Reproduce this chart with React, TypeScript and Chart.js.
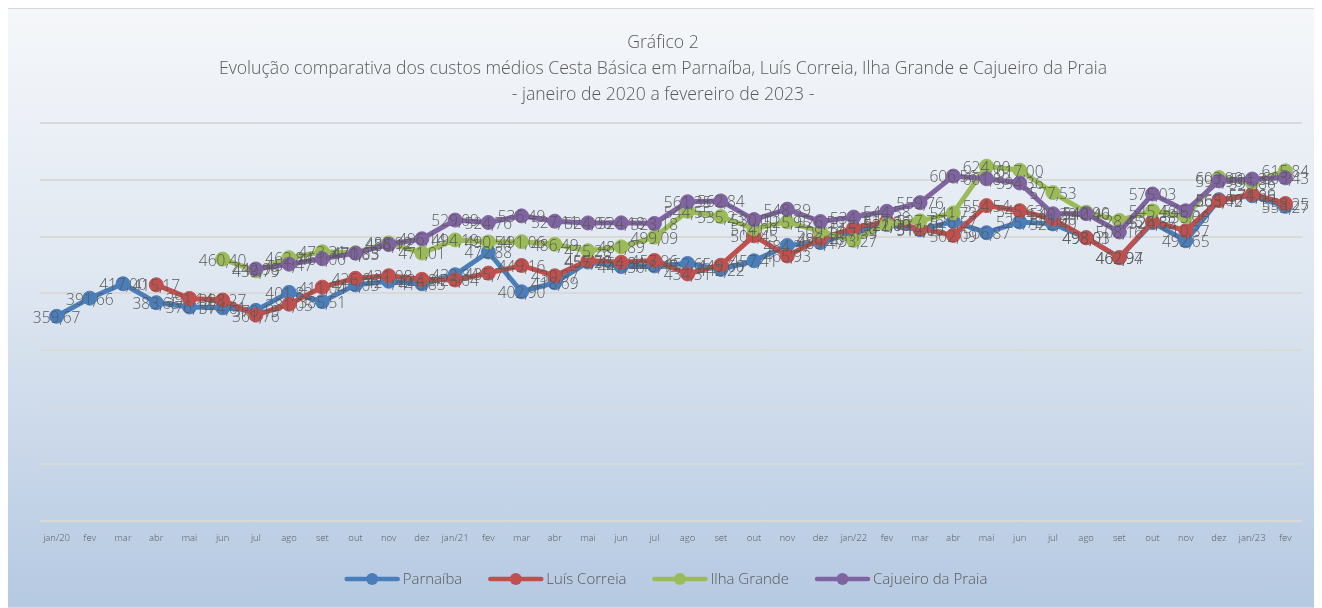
import React, { useEffect, useRef } from "react";
import { Chart, registerables } from "chart.js";

Chart.register(...registerables);

const months: string[] = [
  "jan/20", "fev", "mar", "abr", "mai", "jun", "jul", "ago", "set", "out", "nov", "dez",
  "jan/21", "fev", "mar", "abr", "mai", "jun", "jul", "ago", "set", "out", "nov", "dez",
  "jan/22", "fev", "mar", "abr", "mai", "jun", "jul", "ago", "set", "out", "nov", "dez",
  "jan/23", "fev",
];

const parnaiba: (number | null)[] = [
  359.67, 391.66, 417.0, 383.65, 376.14, 374.61, 370.19, 401.82, 385.51, 415.05, 421.42, 416.85,
  432.84, 472.88, 402.9, 418.69, 455.26, 447.3, 448.45, 452.65, 442.22, 457.41, 484.37, 489.47,
  507.59, 521.0, 512.05, 526.57, 506.87, 525.73, 522.4, 498.01, 462.97, 524.55, 492.65, 565.0,
  571.86, 553.27,
];

const luisCorreia: (number | null)[] = [
  null, null, null, 415.17, 391.14, 388.27, 361.76, 381.05, 411.04, 426.64, 431.08, 424.81,
  423.64, 435.71, 449.16, 430.97, 457.7, 454.84, 457.96, 434.31, 449.6, 501.45, 465.93, 496.16,
  515.0, 527.0, 514.0, 502.09, 554.54, 545.63, 531.0, 498.03, 462.94, 526.82, 510.37, 563.42,
  574.69, 558.25,
];

const ilhaGrande: (number | null)[] = [
  null, null, null, null, null, 460.4, 439.79, 462.84, 473.31, 471.65, 488.92, 471.01,
  494.19, 490.54, 491.06, 486.49, 475.28, 481.89, 499.09, 544.55, 535.23, 514.0, 525.95, 509.16,
  493.27, 522.0, 527.76, 541.73, 624.0, 617.0, 577.53, 542.9, 528.45, 545.46, 535.0, 603.9,
  595.86, 615.84,
];

const cajueiro: (number | null)[] = [
  null, null, null, null, null, null, 442.98, 451.47, 461.0, 470.83, 486.12, 496.14,
  529.09, 524.76, 536.49, 527.11, 524.06, 524.18, 523.18, 561.35, 562.84, 530.0, 548.39, 526.5,
  534.3, 544.58, 559.76, 606.56, 601.8, 594.36, 540.2, 540.46, 508.16, 575.03, 545.52, 597.96,
  601.32, 603.43,
];

const seriesNames = ["Parnaíba", "Luís Correia", "Ilha Grande", "Cajueiro da Praia"];
const seriesColors = ["#4a7ebb", "#c0504d", "#9bbb59", "#8064a2"];
const titleLines = [
  "Gráfico 2",
  "Evolução comparativa dos custos médios Cesta Básica em Parnaíba, Luís Correia, Ilha Grande e Cajueiro da Praia",
  "- janeiro de 2020 a fevereiro de 2023 -",
];

const FONT = "'Open Sans', 'Noto Sans', sans-serif";
const TEXT = "#595959";

const overlayPlugin = {
  id: "overlay",
  afterDatasetsDraw(chart: any) {
    const ctx = chart.ctx;
    ctx.save();
    ctx.font = `300 15.5px ${FONT}`;
    ctx.fillStyle = TEXT;
    ctx.textAlign = "center";
    ctx.textBaseline = "middle";
    chart.data.datasets.forEach((ds: any, di: number) => {
      const meta = chart.getDatasetMeta(di);
      meta.data.forEach((pt: any, i: number) => {
        const v = ds.data[i];
        if (v === null || v === undefined) return;
        const s = v.toFixed(2).replace(".", ",");
        ctx.fillText(s, pt.x, pt.y + 2);
      });
    });
    ctx.restore();
  },
  afterDraw(chart: any) {
    const ctx = chart.ctx;
    ctx.save();
    ctx.fillStyle = TEXT;
    ctx.textAlign = "center";
    ctx.textBaseline = "middle";
    ctx.font = `300 17.6px ${FONT}`;
    const cx = 659;
    titleLines.forEach((t, i) => ctx.fillText(t, cx, 34 + i * 26));
    ctx.font = `300 15px ${FONT}`;
    const sampleW = 55;
    const gap = 3;
    const spacing = 26;
    const widths = seriesNames.map((n) => ctx.measureText(n).width);
    const total =
      widths.reduce((a, w) => a + sampleW + gap + w, 0) + spacing * (seriesNames.length - 1);
    let x = 662 - total / 2;
    const y = 570;
    seriesNames.forEach((n, i) => {
      ctx.strokeStyle = seriesColors[i];
      ctx.lineWidth = 4.5;
      ctx.lineCap = "round";
      ctx.beginPath();
      ctx.moveTo(x + 2, y);
      ctx.lineTo(x + sampleW - 2, y);
      ctx.stroke();
      ctx.fillStyle = seriesColors[i];
      ctx.beginPath();
      ctx.arc(x + sampleW / 2, y, 6, 0, Math.PI * 2);
      ctx.fill();
      ctx.fillStyle = TEXT;
      ctx.textAlign = "left";
      ctx.fillText(n, x + sampleW + gap, y + 1);
      x += sampleW + gap + widths[i] + spacing;
    });
    ctx.restore();
  },
};

export default function App() {
  const ref = useRef<HTMLCanvasElement | null>(null);

  useEffect(() => {
    if (!ref.current) return;
    const all = [parnaiba, luisCorreia, ilhaGrande, cajueiro];
    const chart = new Chart(ref.current, {
      type: "line",
      data: {
        labels: months,
        datasets: all.map((d, i) => ({
          label: seriesNames[i],
          data: d,
          order: all.length - 1 - i,
          borderColor: seriesColors[i],
          backgroundColor: seriesColors[i],
          pointBackgroundColor: seriesColors[i],
          pointBorderColor: seriesColors[i],
          borderWidth: 5,
          pointRadius: 7,
          pointBorderWidth: 1,
          tension: 0,
          spanGaps: false,
        })),
      },
      options: {
        animation: false,
        responsive: false,
        maintainAspectRatio: false,
        layout: { padding: { left: 36, right: 16, top: 114, bottom: 51 } },
        plugins: {
          legend: { display: false },
          title: { display: false },
          tooltip: { enabled: false },
        },
        scales: {
          x: {
            offset: true,
            grid: { display: false, drawTicks: false },
            border: { display: false },
            ticks: {
              autoSkip: false,
              maxRotation: 0,
              minRotation: 0,
              padding: 12,
              color: TEXT,
              font: { size: 9.5, family: FONT, weight: 300 as any },
            },
          },
          y: {
            min: 0,
            max: 700,
            ticks: { display: false, stepSize: 100 },
            grid: { color: "#d9d9d9", lineWidth: 2, drawTicks: false },
            border: { display: false },
          },
        },
      },
      plugins: [overlayPlugin],
    });
    return () => chart.destroy();
  }, []);

  return (
    <div
      style={{
        marginLeft: -5,
        width: 1316,
        height: 600,
        boxSizing: "border-box",
        border: "1px solid #d9d9d9",
        background: "linear-gradient(to bottom, #f5f7fa 0%, #dfe7f1 45%, #b5c9e2 100%)",
      }}
    >
      <canvas ref={ref} width={1314} height={598} style={{ display: "block" }} />
    </div>
  );
}
